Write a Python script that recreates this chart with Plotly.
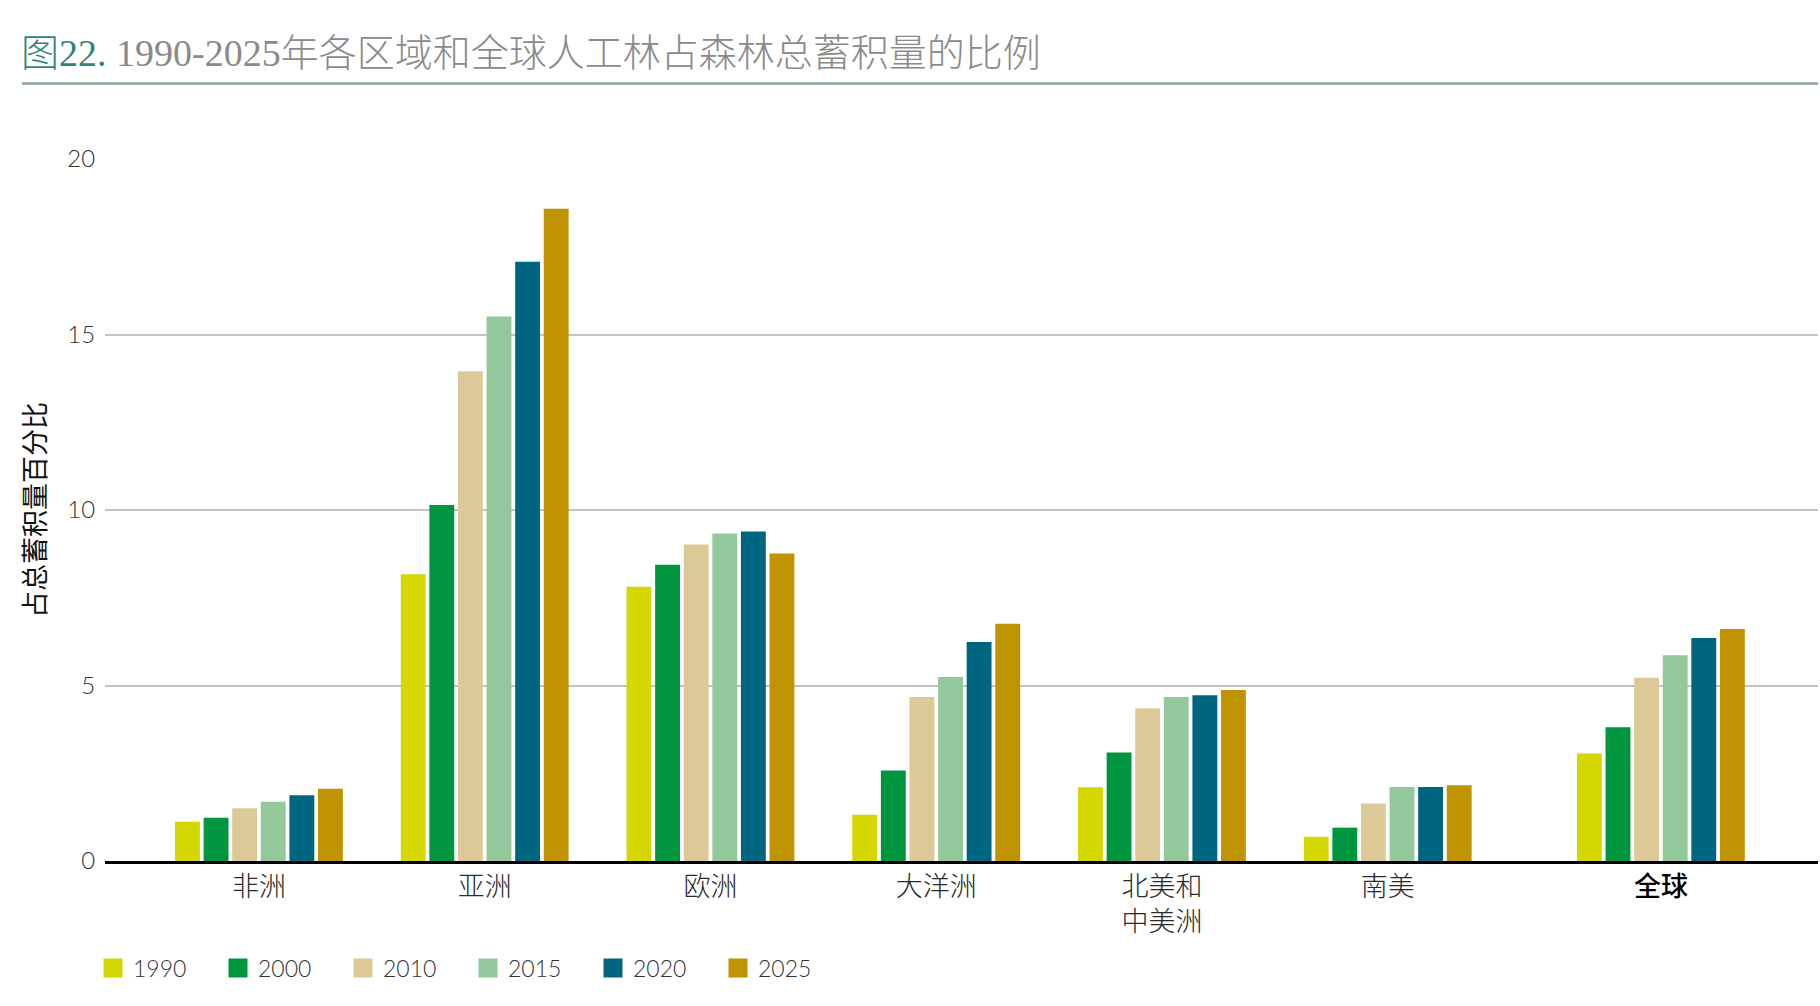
import plotly.graph_objects as go

# ---------------- data ----------------
regions = ["非洲", "亚洲", "欧洲", "大洋洲", "北美和<br>中美洲", "南美", "全球"]
years = ["1990", "2000", "2010", "2015", "2020", "2025"]

v1990 = [1.12, 8.17, 7.81, 1.32, 2.10, 0.69, 3.06]
v2000 = [1.23, 10.14, 8.44, 2.58, 3.09, 0.95, 3.81]
v2010 = [1.50, 13.95, 9.02, 4.67, 4.35, 1.64, 5.22]
v2015 = [1.69, 15.51, 9.33, 5.24, 4.67, 2.11, 5.86]
v2020 = [1.87, 17.07, 9.39, 6.24, 4.72, 2.11, 6.35]
v2025 = [2.06, 18.58, 8.76, 6.76, 4.87, 2.16, 6.61]
series = [v1990, v2000, v2010, v2015, v2020, v2025]

y_ticks = [0, 5, 10, 15, 20]

colors = ["#d4d700", "#009640", "#dbca98", "#93c89c", "#00667f", "#c09400"]

# ---------------- layout helpers ----------------
W, H = 1820, 1006
ML, MR, MT, MB = 105, 2, 159, 145
PW = W - ML - MR
PH = H - MT - MB

# extra gap before the global group (layout, not data)
GLOBAL_GAP = 0.21
xpos = [i + (GLOBAL_GAP if i == len(regions) - 1 else 0) for i in range(len(regions))]

def px_x(p):
    return (p - ML) / PW

def px_y(p):
    return (H - MB - p) / PH

tick_font = dict(family="Lato, 'Noto Sans CJK SC'", size=24, color="#333333", weight=300)
cjk_font = dict(family="'Noto Sans CJK SC'", size=27, color="#2a2a2a", weight=300)

fig = go.Figure()
for yr, vals, col in zip(years, series, colors):
    fig.add_trace(go.Bar(
        x=xpos, y=vals, name=yr, marker=dict(color=col, line=dict(width=0)),
        showlegend=False, hoverinfo="y+name",
    ))
# legend entries with larger square swatches
for yr, col in zip(years, colors):
    fig.add_trace(go.Scatter(
        x=[None], y=[None], mode="markers", name=yr,
        marker=dict(symbol="square", size=16, color=col, line=dict(color=col, width=3)),
        showlegend=True,
    ))

ticktext = [r if r != "全球" else "<span style='font-weight:500;color:#000'>全球</span>" for r in regions]

fig.update_layout(
    width=W, height=H,
    margin=dict(l=ML, r=MR, t=MT, b=MB, autoexpand=False),
    paper_bgcolor="white", plot_bgcolor="white",
    barmode="group", bargap=0.24, bargroupgap=0.13,
    title=dict(
        text="<span style='color:#2f8575'>图22.</span> 1990-2025年各区域和全球人工林占森林总蓄积量的比例",
        font=dict(family="'Liberation Serif', 'Noto Sans CJK SC'", size=38, color="#8a8a8a", weight=300),
        xref="container", yref="container", x=21 / W, xanchor="left",
        y=1 - 53 / H, yanchor="middle",
    ),
    xaxis=dict(
        range=[-0.682, 6.906], tickvals=xpos, ticktext=ticktext,
        showgrid=False, zeroline=False, showline=True, linecolor="#000000", linewidth=2.5,
        ticks="", tickfont=cjk_font, automargin=False,
    ),
    yaxis=dict(
        range=[0, 20], tickvals=y_ticks, showgrid=True, gridcolor="#c4c4c4", gridwidth=1.5,
        zeroline=False, showline=False,
        ticks="outside", ticklen=4, tickcolor="rgba(0,0,0,0)",
        tickfont=tick_font, automargin=False,
    ),
    legend=dict(
        orientation="h", xref="paper", yref="container",
        x=px_x(93), xanchor="left", y=1 - 968 / H, yanchor="middle",
        font=dict(family="Lato, sans-serif", size=23, color="#333333", weight=300),
        entrywidth=80, entrywidthmode="pixels", itemclick=False,
        bgcolor="rgba(0,0,0,0)",
    ),
    annotations=[dict(
        text="占总蓄积量百分比", textangle=-90, xref="paper", yref="paper",
        x=px_x(33), y=0.5, xanchor="center", yanchor="middle", showarrow=False,
        font=dict(family="'Noto Sans CJK SC'", size=27, color="#111111"),
    )],
    shapes=[dict(
        type="line", xref="paper", yref="paper",
        x0=px_x(22), x1=px_x(1818), y0=px_y(83.5), y1=px_y(83.5),
        line=dict(color="#8ea59d", width=2.5),
    )],
)

fig.write_html("out.html")
